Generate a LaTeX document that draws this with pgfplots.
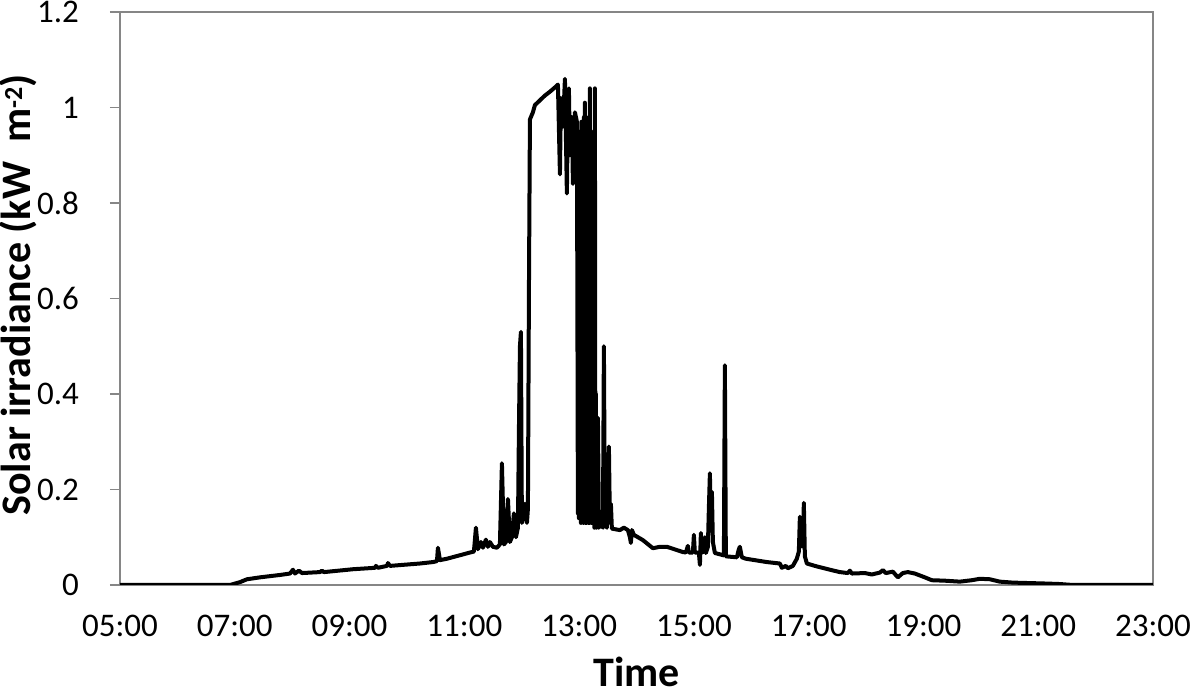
\documentclass[border=0pt]{standalone}
\usepackage{fontspec}
\setmainfont{Carlito}
\usepackage{pgfplots}
\pgfplotsset{compat=1.18}
\definecolor{axisgray}{HTML}{868686}
\begin{document}
\begin{tikzpicture}
\useasboundingbox (-60pt,-55pt) rectangle (535.5pt,292.5pt);
\begin{axis}[
  scale only axis, width=516.5pt, height=286.5pt,
  at={(0,0)}, anchor=south west,
  xmin=5, xmax=23, ymin=0, ymax=1.2,
  xtick={5,7,9,11,13,15,17,19,21,23},
  xticklabels={05:00,07:00,09:00,11:00,13:00,15:00,17:00,19:00,21:00,23:00},
  ytick={0,0.2,0.4,0.6,0.8,1,1.2},
  yticklabels={0,0.2,0.4,0.6,0.8,1,1.2},
  axis line style={draw=axisgray, line width=0.6pt},
  ytick style={draw=axisgray, line width=0.6pt},
  xtick style={draw=none},
  tick align=outside, tick pos=left, major tick length=5pt,
  ticklabel style={font=\fontsize{16.5}{20}\selectfont},
  xticklabel style={yshift=-6.5pt},
  yticklabel shift=12pt,
  xlabel={Time},
  ylabel={Solar irradiance (kW~ m\raisebox{0.2em}{\fontsize{13}{13}\selectfont -2})},
  label style={font=\fontsize{21}{25}\selectfont\bfseries},
  xlabel style={at={(axis description cs:0.5,0)}, anchor=base, yshift=-51pt},
  ylabel style={at={(axis description cs:-0.0865,0.506)}, anchor=base},
  clip=true,
]
\addplot[black, line width=2pt, line join=round, mark=none] table {
5.000 0
6.916 0
7.091 0.006
7.213 0.012
7.439 0.016
7.787 0.021
7.962 0.024
8.014 0.032
8.049 0.024
8.118 0.030
8.171 0.025
8.484 0.027
8.519 0.030
8.554 0.027
9.059 0.033
9.443 0.036
9.460 0.040
9.495 0.036
9.652 0.040
9.669 0.046
9.704 0.040
10.226 0.045
10.453 0.048
10.523 0.050
10.540 0.078
10.575 0.052
10.697 0.055
10.976 0.064
11.098 0.068
11.167 0.070
11.202 0.120
11.237 0.075
11.289 0.090
11.324 0.078
11.376 0.095
11.411 0.080
11.446 0.090
11.498 0.080
11.568 0.078
11.620 0.085
11.655 0.255
11.690 0.085
11.725 0.090
11.760 0.180
11.794 0.090
11.829 0.100
11.864 0.150
11.899 0.100
11.934 0.120
11.951 0.320
11.969 0.500
11.986 0.530
12.003 0.130
12.038 0.150
12.056 0.170
12.091 0.130
12.108 0.160
12.125 0.600
12.143 0.975
12.195 0.990
12.230 1.005
12.317 1.015
12.404 1.025
12.491 1.033
12.578 1.042
12.631 1.048
12.666 0.860
12.683 1.020
12.718 0.960
12.753 1.060
12.787 0.820
12.805 1.000
12.822 1.040
12.840 0.900
12.875 0.980
12.892 0.840
12.927 0.990
12.962 0.970
12.979 0.150
12.988 0.900
12.997 0.140
13.006 0.920
13.014 0.200
13.023 0.950
13.032 0.130
13.040 0.970
13.049 0.140
13.067 0.960
13.075 0.130
13.084 0.980
13.093 0.140
13.101 1.010
13.110 0.130
13.119 0.970
13.127 0.130
13.136 0.960
13.145 0.140
13.154 0.960
13.162 0.130
13.171 0.980
13.180 0.130
13.188 1.040
13.197 0.140
13.206 0.950
13.214 0.130
13.223 0.900
13.232 0.130
13.240 0.920
13.249 0.130
13.258 0.800
13.266 0.120
13.275 1.040
13.284 0.130
13.293 0.400
13.301 0.120
13.310 0.300
13.319 0.130
13.328 0.350
13.345 0.120
13.380 0.130
13.415 0.120
13.432 0.500
13.449 0.130
13.484 0.120
13.519 0.290
13.537 0.130
13.554 0.170
13.571 0.118
13.711 0.115
13.780 0.120
13.850 0.115
13.885 0.100
13.902 0.088
13.920 0.115
13.955 0.105
14.111 0.094
14.286 0.077
14.408 0.080
14.530 0.080
14.808 0.069
14.861 0.068
14.895 0.082
14.913 0.068
14.983 0.068
15.000 0.105
15.017 0.068
15.087 0.068
15.105 0.042
15.122 0.109
15.139 0.068
15.174 0.070
15.192 0.100
15.209 0.067
15.244 0.080
15.261 0.160
15.279 0.234
15.296 0.120
15.314 0.195
15.331 0.090
15.366 0.067
15.523 0.062
15.540 0.460
15.557 0.060
15.749 0.058
15.784 0.075
15.801 0.080
15.836 0.058
15.906 0.055
16.272 0.048
16.498 0.045
16.533 0.036
16.603 0.040
16.638 0.035
16.725 0.040
16.794 0.055
16.829 0.070
16.847 0.143
16.864 0.080
16.882 0.100
16.899 0.080
16.916 0.172
16.934 0.060
16.969 0.045
17.108 0.040
17.369 0.032
17.544 0.027
17.683 0.025
17.718 0.030
17.753 0.024
17.979 0.025
18.101 0.022
18.240 0.026
18.293 0.031
18.345 0.025
18.467 0.028
18.554 0.016
18.641 0.025
18.728 0.027
18.850 0.024
19.024 0.016
19.146 0.010
19.373 0.009
19.634 0.007
19.843 0.010
19.983 0.013
20.157 0.012
20.331 0.007
20.557 0.005
20.854 0.004
21.150 0.003
21.376 0.002
21.603 0.000
23.000 0.000
};
\end{axis}
\end{tikzpicture}
\end{document}
